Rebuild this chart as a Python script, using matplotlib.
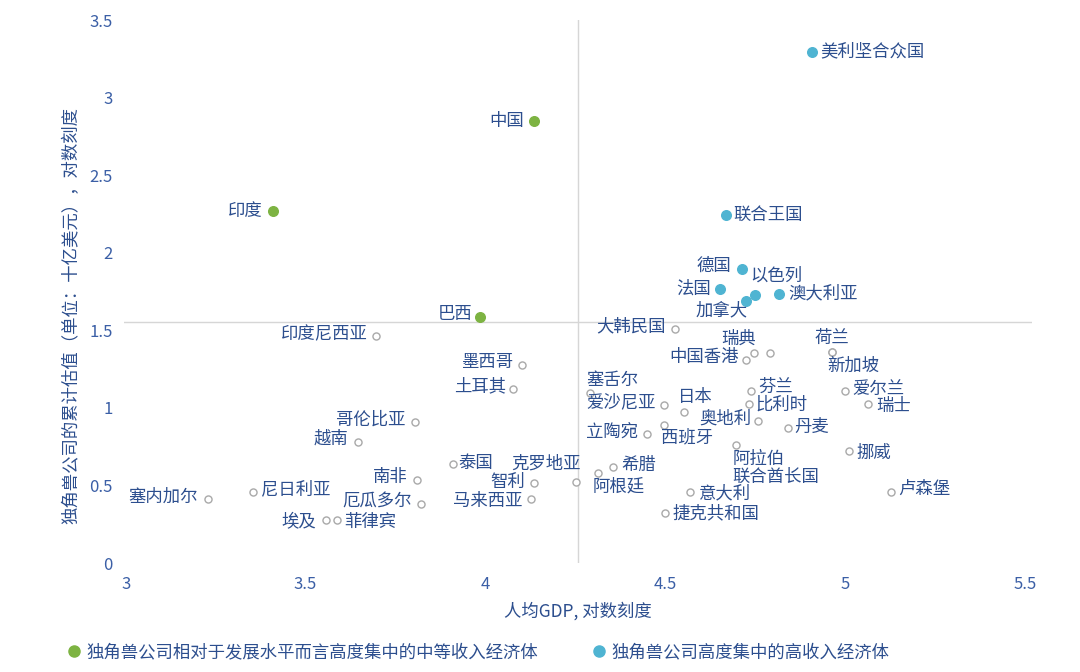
import matplotlib
matplotlib.use("Agg")
import matplotlib.pyplot as plt
from matplotlib.lines import Line2D

plt.rcParams['font.family'] = ['Noto Sans CJK SC', 'DejaVu Sans']

# middle-income economies with high unicorn concentration
mid_names = ['中国', '印度', '巴西']
mid_x = [4.135, 3.409, 3.984]
mid_y = [2.852, 2.271, 1.587]

# high-income economies with high unicorn concentration
high_names = ['美利坚合众国', '联合王国', '德国', '法国', '以色列', '加拿大', '澳大利亚']
high_x = [4.908, 4.668, 4.713, 4.652, 4.749, 4.724, 4.816]
high_y = [3.297, 2.245, 1.897, 1.768, 1.729, 1.690, 1.735]

# other economies
other_names = ['印度尼西亚', '墨西哥', '土耳其', '哥伦比亚', '越南', '泰国', '南非', '智利',
               '克罗地亚', '马来西亚', '厄瓜多尔', '塞内加尔', '尼日利亚', '埃及', '菲律宾',
               '大韩民国', '瑞典', '', '中国香港', '荷兰', '新加坡', '塞舌尔', '爱沙尼亚', '日本',
               '芬兰', '比利时', '奥地利', '丹麦', '立陶宛', '西班牙', '阿拉伯\n联合酋长国',
               '爱尔兰', '瑞士', '挪威', '卢森堡', '希腊', '阿根廷', '意大利', '捷克共和国']
other_x = [3.695, 4.101, 4.076, 3.804, 3.645, 3.909, 3.809, 4.135,
           4.251, 4.126, 3.820, 3.228, 3.353, 3.556, 3.587,
           4.527, 4.746, 4.791, 4.724, 4.963, 4.963, 4.290, 4.496, 4.552,
           4.738, 4.732, 4.757, 4.841, 4.449, 4.496, 4.696,
           4.999, 5.063, 5.011, 5.127, 4.354, 4.313, 4.568, 4.499]
other_y = [1.465, 1.277, 1.123, 0.910, 0.781, 0.639, 0.535, 0.516,
           0.523, 0.413, 0.381, 0.413, 0.458, 0.277, 0.277,
           1.510, 1.355, 1.355, 1.310, 1.361, 1.361, 1.097, 1.019, 0.974,
           1.110, 1.026, 0.916, 0.871, 0.832, 0.890, 0.761,
           1.110, 1.026, 0.723, 0.458, 0.619, 0.581, 0.458, 0.323]

x_ticks = [3, 3.5, 4, 4.5, 5, 5.5]
y_ticks = [0, 0.5, 1, 1.5, 2, 2.5, 3, 3.5]
x_split = 4.257
y_split = 1.555

legend_labels = ['独角兽公司相对于发展水平而言高度集中的中等收入经济体', '独角兽公司高度集中的高收入经济体']

# label placement: (ha, dx, dy) in pixels
place = {
    '中国': ('right', -10, 0), '印度': ('right', -10, 0), '巴西': ('right', -7, 3),
    '美利坚合众国': ('left', 8, 0), '联合王国': ('left', 8, 0), '德国': ('right', -10, 3),
    '以色列': ('left', -4, 19), '法国': ('right', -9, 0), '加拿大': ('center', -24, -10),
    '澳大利亚': ('left', 10, 0),
    '印度尼西亚': ('right', -8, 1), '墨西哥': ('right', -9, 3), '土耳其': ('right', -6, 2),
    '哥伦比亚': ('right', -9, 2), '越南': ('right', -9, 3), '泰国': ('left', 6, 1),
    '南非': ('right', -9, 3), '智利': ('right', -9, 1), '克罗地亚': ('right', 5, 18),
    '马来西亚': ('right', -8, -2), '厄瓜多尔': ('right', -9, 2), '塞内加尔': ('right', -10, 2),
    '尼日利亚': ('left', 8, 3), '埃及': ('right', -10, -2), '菲律宾': ('left', 7, -2),
    '大韩民国': ('right', -9, 2), '瑞典': ('right', 2, 14), '中国香港': ('right', -7, 3),
    '荷兰': ('center', 0, 14), '新加坡': ('left', -4, -14), '塞舌尔': ('left', -3, 13),
    '爱沙尼亚': ('right', -8, 3), '日本': ('left', -6, 15), '芬兰': ('left', 8, 4),
    '比利时': ('left', 7, -1), '奥地利': ('right', -6, 2), '丹麦': ('left', 7, 1),
    '立陶宛': ('right', -9, 2), '西班牙': ('left', -3, -12), '阿拉伯\n联合酋长国': ('left', -3, -5),
    '爱尔兰': ('left', 8, 2),
    '瑞士': ('left', 9, -2), '挪威': ('left', 8, -2), '卢森堡': ('left', 8, 3),
    '希腊': ('left', 9, 2), '阿根廷': ('left', -5, -14), '意大利': ('left', 9, -1),
    '捷克共和国': ('left', 8, 0),
}

green = '#7db342'
blue = '#4fb4d2'
label_color = '#2c4e8e'
tick_color = '#3b5fa6'
fs = 12.5

fig = plt.figure(figsize=(10.8, 6.72), dpi=100)
ax = fig.add_axes([0.1148, 0.1622, 0.8407, 0.808])

ax.axvline(x_split, color='#d6d6d6', lw=1, zorder=1)
ax.axhline(y_split, color='#d6d6d6', lw=1, zorder=1)

ax.scatter(other_x, other_y, s=26, facecolor='white', edgecolor='#a9a9a9', linewidth=1, zorder=3)
ax.scatter(mid_x, mid_y, s=48, color=green, zorder=4)
ax.scatter(high_x, high_y, s=48, color=blue, zorder=4)


def put_labels(names, xs, ys):
    for n, x, y in zip(names, xs, ys):
        if not n:
            continue
        ha, dx, dy = place[n]
        va = 'center'
        ls = 1.2
        if '\n' in n:
            va = 'top'
            ls = 1.0
        ax.annotate(n, (x, y), xytext=(dx, dy), textcoords='offset pixels',
                    ha=ha, va=va, fontsize=fs, color=label_color, linespacing=ls, zorder=5)


put_labels(mid_names, mid_x, mid_y)
put_labels(high_names, high_x, high_y)
put_labels(other_names, other_x, other_y)

ax.set_xlim(2.995, 5.52)
ax.set_ylim(0, 3.5)
ax.set_xticks(x_ticks)
ax.set_xticklabels([f'{t:g}' for t in x_ticks])
ax.set_yticks(y_ticks)
ax.set_yticklabels([f'{t:g}' for t in y_ticks])
ax.tick_params(length=0, labelsize=12, labelcolor=tick_color)
ax.tick_params(axis='x', pad=9)
ax.tick_params(axis='y', pad=8)
for s in ax.spines.values():
    s.set_visible(False)

ax.set_xlabel('人均GDP, 对数刻度', fontsize=fs, color=label_color, labelpad=7)
fig.text(72 / 1080, 1 - 315 / 672, '独角兽公司的累计估值（单位：十亿美元），对数刻度',
         rotation=90, ha='center', va='center', fontsize=fs, color=label_color)

handles = [Line2D([], [], marker='o', ls='', color=green, markersize=8),
           Line2D([], [], marker='o', ls='', color=blue, markersize=8)]
fig.legend(handles, legend_labels, loc='center left', bbox_to_anchor=(50 / 1080, 1 - 652 / 672),
           ncol=2, frameon=False, fontsize=fs, labelcolor=label_color, handletextpad=0.2,
           handlelength=1.0, columnspacing=3.0)

fig.savefig('out.png', dpi=100)
